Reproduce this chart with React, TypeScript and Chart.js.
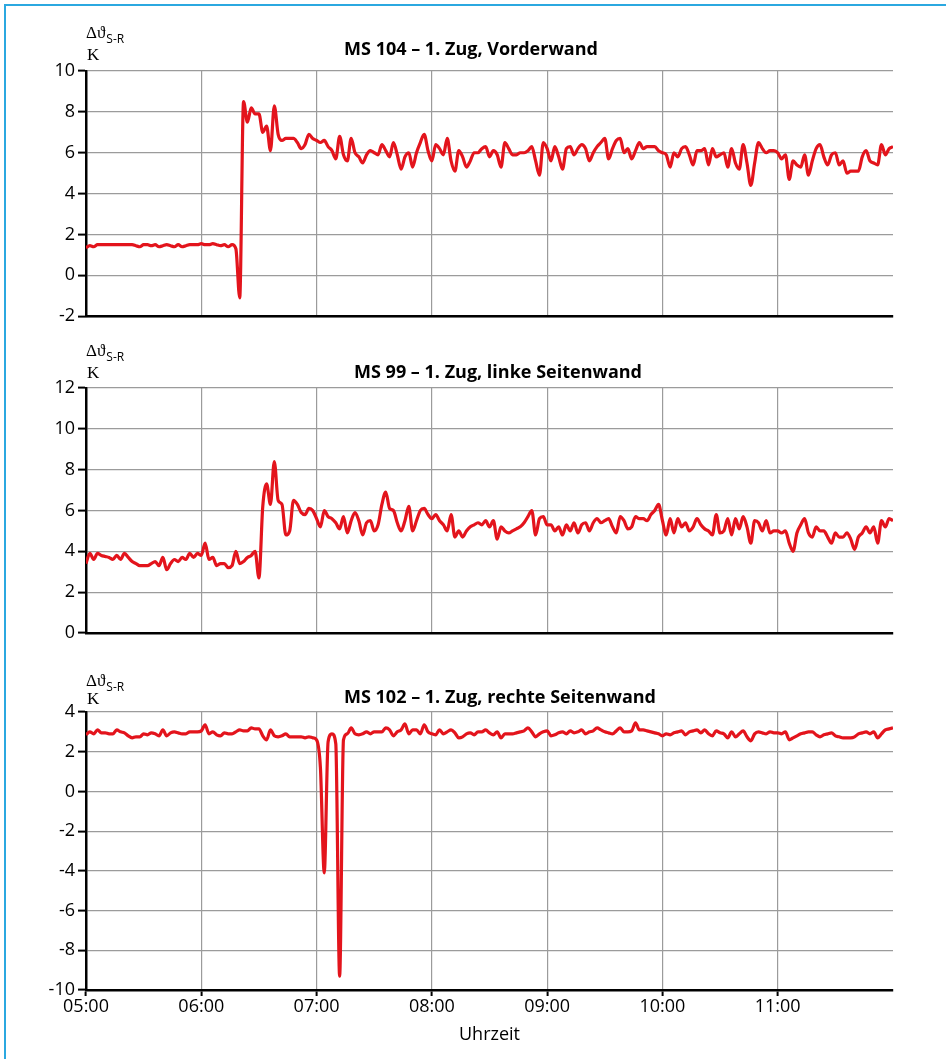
import React, { useEffect, useRef } from "react";
import { Chart, registerables } from "chart.js";

Chart.register(...registerables);

// ---------- DATA ----------
// Sampling step of the recorded series (minutes after 05:00)
const SAMPLE_STEP_MIN = 2;
const X_MIN = 0; // 05:00
const X_MAX = 420; // 12:00
const HOUR_STEP = 60;
const START_HOUR = 5;

const TITLES = [
  "MS 104 – 1. Zug, Vorderwand",
  "MS 99 – 1. Zug, linke Seitenwand",
  "MS 102 – 1. Zug, rechte Seitenwand",
];
const X_AXIS_TITLE = "Uhrzeit";

const Y_RANGES: [number, number][] = [
  [-2, 10],
  [0, 12],
  [-10, 4],
];

// MS 104 – Vorderwand (K)
const MS104 = [
  1.35, 1.45, 1.4, 1.5, 1.5, 1.5, 1.5, 1.5, 1.5, 1.5,
  1.5, 1.5, 1.5, 1.45, 1.4, 1.5, 1.5, 1.45, 1.5, 1.4,
  1.45, 1.5, 1.45, 1.4, 1.5, 1.4, 1.45, 1.5, 1.5, 1.5,
  1.55, 1.5, 1.5, 1.55, 1.5, 1.45, 1.5, 1.4, 1.5, 1.3,
  -1.1, 8.5, 7.5, 8.2, 7.9, 7.9, 7.0, 7.3, 6.1, 8.3,
  6.9, 6.6, 6.7, 6.7, 6.7, 6.5, 6.2, 6.4, 6.9, 6.7,
  6.6, 6.5, 6.6, 6.3, 6.1, 5.7, 6.8, 5.9, 5.6, 6.7,
  6.0, 5.8, 5.5, 5.9, 6.1, 6.0, 5.9, 6.4, 6.1, 5.8,
  6.5, 5.9, 5.2, 5.8, 6.0, 5.3, 6.0, 6.5, 6.9, 6.1,
  5.6, 6.4, 6.2, 5.9, 6.7, 5.6, 5.1, 6.1, 5.8, 5.3,
  5.6, 6.0, 6.0, 6.2, 6.3, 5.8, 6.1, 5.9, 5.3, 6.5,
  6.2, 5.9, 5.9, 6.0, 6.0, 6.1, 6.3, 5.6, 4.9, 6.5,
  6.2, 5.6, 6.3, 5.8, 5.2, 6.2, 6.3, 5.9, 6.2, 6.4,
  6.2, 5.6, 6.0, 6.3, 6.5, 6.7, 5.7, 6.2, 6.6, 6.7,
  6.0, 6.2, 5.7, 6.1, 6.5, 6.2, 6.3, 6.3, 6.3, 6.1,
  6.0, 5.9, 5.3, 6.0, 5.8, 6.2, 6.3, 5.9, 5.4, 6.1,
  6.1, 6.2, 5.4, 6.2, 5.8, 5.9, 6.0, 5.3, 6.2, 5.5,
  5.2, 6.4, 5.5, 4.4, 5.5, 6.5, 6.2, 6.0, 6.1, 6.1,
  6.0, 5.7, 5.9, 4.7, 5.6, 5.4, 5.3, 5.9, 4.9, 5.6,
  6.2, 6.4, 5.8, 5.4, 5.9, 6.0, 5.4, 5.6, 5.0, 5.1,
  5.1, 5.1, 5.8, 6.1, 5.6, 5.5, 5.4, 6.4, 5.9, 6.2,
  6.3,
];

// MS 99 – linke Seitenwand (K)
const MS99 = [
  3.4, 3.9, 3.6, 3.9, 3.8, 3.75, 3.7, 3.6, 3.8, 3.6,
  3.9, 3.7, 3.5, 3.4, 3.3, 3.3, 3.3, 3.4, 3.5, 3.3,
  3.7, 3.1, 3.4, 3.6, 3.5, 3.7, 3.6, 3.9, 3.7, 3.9,
  3.8, 4.4, 3.6, 3.7, 3.3, 3.4, 3.4, 3.2, 3.3, 4.0,
  3.4, 3.5, 3.7, 3.8, 4.0, 2.7, 6.2, 7.3, 6.3, 8.4,
  6.5, 6.3, 4.8, 5.0, 6.5, 6.3, 5.9, 5.8, 6.1, 6.0,
  5.6, 5.2, 6.0, 5.7, 5.6, 5.4, 5.1, 5.7, 4.9, 5.5,
  5.9, 5.5, 4.8, 5.4, 5.5, 5.0, 5.3, 6.3, 6.9, 6.1,
  6.0, 5.4, 5.0, 5.5, 6.2, 5.0, 5.5, 6.0, 6.1, 5.8,
  5.6, 5.8, 5.5, 5.3, 5.0, 5.8, 4.7, 5.0, 4.7, 5.0,
  5.2, 5.3, 5.4, 5.3, 5.5, 5.2, 5.5, 4.6, 5.2, 5.0,
  4.9, 5.0, 5.1, 5.2, 5.4, 5.7, 6.0, 4.8, 5.6, 5.7,
  5.3, 5.3, 5.0, 5.2, 4.8, 5.3, 5.0, 5.4, 4.9, 5.3,
  5.4, 5.0, 5.4, 5.6, 5.4, 5.5, 5.6, 5.2, 4.9, 5.7,
  5.5, 5.1, 5.2, 5.7, 5.6, 5.6, 5.5, 5.8, 6.0, 6.3,
  5.5, 4.8, 5.6, 4.9, 5.6, 5.2, 5.4, 5.0, 5.2, 5.6,
  5.3, 5.1, 5.0, 4.8, 5.8, 4.9, 5.0, 5.6, 4.8, 5.6,
  5.1, 5.7, 5.2, 4.4, 5.5, 5.4, 5.0, 5.5, 4.9, 5.0,
  5.0, 4.9, 5.0, 4.4, 4.0, 4.9, 5.3, 5.6, 4.9, 4.7,
  5.2, 5.0, 5.0, 4.7, 4.4, 4.9, 4.7, 4.7, 4.9, 4.6,
  4.1, 4.7, 4.9, 5.2, 4.9, 5.2, 4.4, 5.5, 5.2, 5.6,
  5.5,
];

// MS 102 – rechte Seitenwand (K)
const MS102 = [
  2.85, 3.0, 2.9, 3.1, 2.95, 2.95, 2.9, 2.9, 3.1, 3.0,
  2.95, 2.8, 2.7, 2.75, 2.75, 2.9, 2.85, 2.95, 2.9, 2.8,
  3.1, 2.8, 2.95, 3.0, 2.95, 2.9, 2.9, 3.0, 3.0, 3.0,
  3.05, 3.35, 2.9, 3.0, 2.85, 2.8, 2.95, 2.9, 2.9, 3.0,
  3.1, 3.05, 3.05, 3.2, 3.15, 3.15, 2.8, 2.6, 3.1, 2.8,
  2.75, 2.8, 2.9, 2.75, 2.75, 2.75, 2.75, 2.7, 2.75, 2.7,
  2.6, 1.2, -4.1, 2.5, 2.9, 2.4, -9.3, 2.6, 2.9, 3.2,
  2.9, 2.85, 2.9, 3.0, 2.9, 3.0, 3.0, 3.0, 3.2, 3.1,
  2.8, 3.0, 3.1, 3.4, 2.9, 3.1, 3.1, 2.9, 3.35, 3.0,
  2.9, 2.85, 3.1, 2.9, 3.0, 3.1, 2.95, 2.7, 2.75, 2.9,
  2.95, 2.85, 3.0, 3.0, 3.1, 2.95, 2.85, 3.0, 2.7, 2.9,
  2.9, 2.9, 2.95, 3.0, 3.05, 3.2, 3.0, 2.75, 2.9, 3.0,
  3.05, 2.8, 2.85, 2.95, 3.0, 2.9, 3.05, 2.95, 3.0, 3.1,
  2.9, 3.0, 3.05, 3.2, 3.1, 3.0, 2.95, 2.9, 3.05, 3.2,
  3.0, 3.0, 3.05, 3.45, 3.1, 3.1, 3.05, 3.0, 2.95, 2.9,
  2.8, 2.9, 2.85, 2.95, 3.0, 3.05, 2.85, 3.0, 3.05, 3.1,
  2.95, 3.1, 2.9, 2.8, 3.05, 2.95, 2.9, 2.7, 3.0, 2.75,
  2.9, 3.05, 2.75, 2.55, 2.9, 3.0, 2.95, 2.9, 3.0, 2.95,
  2.95, 2.9, 3.0, 2.6, 2.7, 2.8, 2.9, 2.95, 3.0, 3.0,
  2.85, 2.75, 2.85, 2.9, 2.95, 2.8, 2.75, 2.7, 2.7, 2.7,
  2.75, 2.9, 2.95, 3.0, 2.9, 3.0, 2.7, 2.9, 3.1, 3.15,
  3.2,
];

const SERIES = [MS104, MS99, MS102];

// ---------- STYLE / LAYOUT ----------
const W = 946;
const PLOT_LEFT = 86;
const PLOT_RIGHT = 893;
const LINE_COLOR = "#E3141C";
const GRID_COLOR = "#9b9b9b";
const SANS = '"Open Sans", "Noto Sans", sans-serif';
const SERIF = '"Liberation Serif", "DejaVu Serif", serif';
const TICK_SIZE = 18;

type PanelLayout = {
  top: number;
  height: number;
  plotTop: number;
  plotBottom: number;
  titleX: number;
  titleY: number;
  symY: number;
  kY: number;
  showX: boolean;
};

const PANELS: PanelLayout[] = [
  { top: 0, height: 330, plotTop: 71, plotBottom: 318, titleX: 471, titleY: 55, symY: 38, kY: 60, showX: false },
  { top: 330, height: 320, plotTop: 58, plotBottom: 303, titleX: 498, titleY: 48, symY: 26, kY: 48, showX: false },
  { top: 650, height: 409, plotTop: 62, plotBottom: 340, titleX: 500, titleY: 53, symY: 36, kY: 54, showX: true },
];

const fmtTime = (v: number) => {
  const total = START_HOUR * 60 + v;
  const h = Math.floor(total / 60);
  const m = Math.round(total % 60);
  return String(h).padStart(2, "0") + ":" + String(m).padStart(2, "0");
};

const panelTextPlugin = {
  id: "panelText",
  afterDraw(chart: any, _args: any, opts: any) {
    const { ctx } = chart;
    ctx.save();
    ctx.fillStyle = "#000";
    ctx.textBaseline = "alphabetic";
    ctx.textAlign = "center";
    ctx.font = `bold 18px ${SANS}`;
    ctx.fillText(opts.title, opts.titleX, opts.titleY);
    ctx.textAlign = "left";
    ctx.font = `17px ${SERIF}`;
    ctx.fillText("Δϑ", PLOT_LEFT, opts.symY);
    const w = ctx.measureText("Δϑ").width;
    ctx.font = `12px ${SANS}`;
    ctx.fillText("S-R", PLOT_LEFT + w + 1, opts.symY + 5);
    ctx.font = `17px ${SERIF}`;
    ctx.fillText("K", PLOT_LEFT + 1, opts.kY);
    ctx.restore();
  },
};

function Panel({ idx }: { idx: number }) {
  const ref = useRef<HTMLCanvasElement | null>(null);
  const p = PANELS[idx];
  useEffect(() => {
    if (!ref.current) return;
    const values = SERIES[idx];
    const points = values.map((y, i) => ({ x: i * SAMPLE_STEP_MIN, y }));
    const [ymin, ymax] = Y_RANGES[idx];
    const chart = new Chart(ref.current, {
      type: "line",
      data: {
        datasets: [
          {
            data: points,
            borderColor: LINE_COLOR,
            borderWidth: 3.2,
            pointRadius: 0,
            cubicInterpolationMode: "monotone",
            fill: false,
          },
        ],
      },
      plugins: [panelTextPlugin],
      options: {
        responsive: false,
        animation: false,
        events: [],
        layout: { padding: { top: p.plotTop, left: 0, right: W - PLOT_RIGHT, bottom: 0 } },
        plugins: {
          legend: { display: false },
          tooltip: { enabled: false },
          title: { display: false },
          panelText: {
            title: TITLES[idx],
            titleX: p.titleX,
            titleY: p.titleY,
            symY: p.symY,
            kY: p.kY,
          },
        } as any,
        scales: {
          x: {
            type: "linear",
            min: X_MIN,
            max: X_MAX,
            afterBuildTicks: (s: any) => {
              s.ticks = s.ticks.filter((t: any) => t.value < X_MAX);
            },
            afterFit: (s: any) => {
              s.height = p.height - p.plotBottom;
            },
            ticks: {
              display: p.showX,
              stepSize: HOUR_STEP,
              autoSkip: false,
              maxRotation: 0,
              color: "#000",
              padding: 0,
              font: { family: SANS, size: TICK_SIZE },
              callback: (v: any) => fmtTime(Number(v)),
            },
            grid: {
              color: GRID_COLOR,
              lineWidth: 1.2,
              drawTicks: p.showX,
              tickColor: "#000",
              tickLength: 6,
              tickWidth: 2,
            },
            border: { display: true, color: "#000", width: 2.5 },
            title: {
              display: p.showX,
              text: X_AXIS_TITLE,
              color: "#000",
              font: { family: SANS, size: 18 },
              padding: { top: 0, bottom: 13 },
            },
          },
          y: {
            min: ymin,
            max: ymax,
            afterFit: (s: any) => {
              s.width = PLOT_LEFT;
            },
            ticks: {
              stepSize: 2,
              color: "#000",
              padding: 3,
              font: { family: SANS, size: TICK_SIZE },
            },
            grid: {
              color: GRID_COLOR,
              lineWidth: 1.2,
              tickColor: "#000",
              tickLength: 8,
              tickWidth: 2,
            },
            border: { display: true, color: "#000", width: 2.5 },
          },
        },
      } as any,
    });
    return () => chart.destroy();
  }, [idx]);
  return (
    <canvas
      ref={ref}
      width={W}
      height={p.height}
      style={{ position: "absolute", left: 0, top: p.top, width: W, height: p.height, display: "block" }}
    />
  );
}

export default function App() {
  return (
    <div
      style={{
        position: "absolute",
        left: 0,
        top: 0,
        width: W,
        height: 1059,
        background: "#fff",
        overflow: "hidden",
      }}
    >
      <div
        style={{
          position: "absolute",
          left: 4,
          top: 4,
          right: -10,
          bottom: -10,
          borderLeft: "2px solid #2BA8E0",
          borderTop: "2px solid #2BA8E0",
        }}
      />
      {PANELS.map((_, i) => (
        <Panel key={i} idx={i} />
      ))}
    </div>
  );
}
